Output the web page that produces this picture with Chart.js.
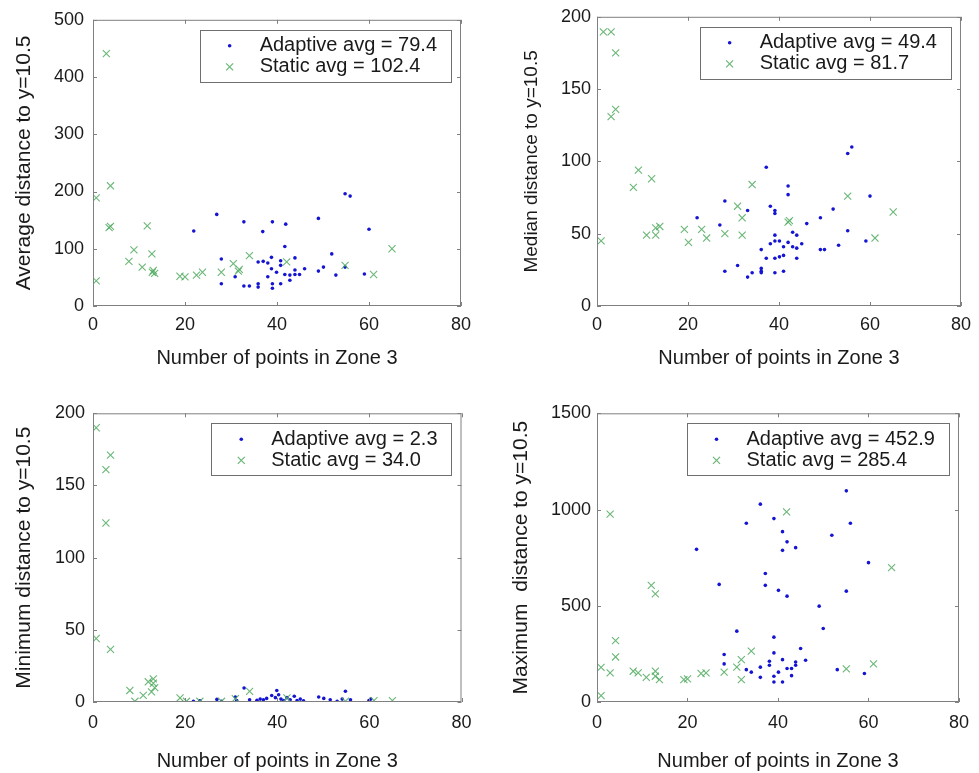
<!DOCTYPE html>
<html>
<head>
<meta charset="utf-8">
<script src="https://cdn.jsdelivr.net/npm/chart.js@4"></script>
<style>
  body { margin: 0; background: #fff; width: 979px; height: 773px; position: relative; overflow: hidden; }
  canvas { position: absolute; }
</style>
</head>
<body>
<canvas id="avgChart" width="489" height="386" style="left:0;top:0"></canvas>
<canvas id="medChart" width="490" height="386" style="left:489px;top:0"></canvas>
<canvas id="minChart" width="489" height="387" style="left:0;top:386px"></canvas>
<canvas id="maxChart" width="490" height="387" style="left:489px;top:386px"></canvas>
<script>
// x axis is shared by all four panels
const xTicks = [0, 20, 40, 60, 80];
const xTitle = "Number of points in Zone 3";

// Average distance panel
const avgLegend = ["Adaptive avg = 79.4", "Static avg = 102.4"];
const avgTicks = [0, 100, 200, 300, 400, 500];
const avgAdaptive = [
  [26.9, 160], [21.9, 131], [32.8, 147], [36.9, 130], [39, 147], [41.9, 143], [49, 153],
  [54.8, 196], [55.9, 192], [60, 134], [41.7, 104], [27.9, 82], [27.9, 39], [30.9, 51],
  [32.8, 35], [34, 35], [35.9, 39], [35.9, 33], [35.9, 77], [37, 78], [38, 75], [38, 51],
  [38.8, 85], [38.8, 65], [39, 39], [39, 31], [39.9, 59], [40.8, 79], [40.8, 71], [40.8, 39],
  [41.7, 55], [42.8, 45], [42.8, 54], [43.9, 84], [43.9, 63], [43.9, 55], [44.9, 55],
  [46, 65], [49, 61], [50.1, 68], [51.9, 91], [52.8, 54], [54.8, 68], [59, 56]
];
const avgStatic = [
  [2.9, 441], [3.8, 210], [0.7, 189], [3.5, 137], [3.8, 139], [11.8, 140], [8.9, 98],
  [12.8, 91], [7.8, 78], [10.7, 68], [12.9, 59], [13.1, 62], [13.4, 57], [18.9, 52],
  [20, 51], [22.5, 54], [23.8, 59], [27.9, 59], [30.5, 74], [31.6, 61], [31.8, 64],
  [34, 88], [42.1, 77], [54.8, 71], [61, 55], [65, 100], [0.7, 44]
];

// Median distance panel
const medLegend = ["Adaptive avg = 49.4", "Static avg = 81.7"];
const medTicks = [0, 50, 100, 150, 200];
const medAdaptive = [
  [37.2, 96], [55.1, 105.5], [56, 110], [60, 76], [42, 83], [42, 77], [28.1, 72.6],
  [22, 61], [27, 56], [33.1, 66], [38.1, 69], [39.1, 66], [39.1, 64], [51.9, 67],
  [46.1, 57], [49.1, 61], [43, 51], [43.9, 49], [39.1, 49], [38.1, 43], [39.1, 45],
  [40.1, 45], [41, 41], [42, 44], [43, 41], [43.9, 40], [45, 43], [36.1, 39], [37.2, 33],
  [39.1, 33], [40.1, 34], [41, 35], [43.9, 33], [49.1, 39], [50, 39], [53.1, 42],
  [55.1, 52], [59.1, 45], [30.9, 28], [28.1, 24], [33.1, 20], [34.1, 23], [36.1, 26],
  [36.1, 24], [36.1, 23], [39.1, 23], [41, 24]
];
const medStatic = [
  [1.4, 189.6], [3.1, 189.6], [4.1, 175], [3.1, 131], [4.1, 136], [9.1, 94], [8, 82],
  [12, 88], [0.9, 45], [10.9, 49], [12.9, 49], [12.9, 54], [13.8, 55], [19.2, 53],
  [20.1, 44], [23, 53], [24.1, 47], [28.1, 50], [30.9, 69], [31.9, 61], [31.9, 49],
  [34.1, 84], [42, 58], [42.3, 59], [55.1, 76], [61.1, 47], [65.1, 65]
];

// Minimum distance panel
const minLegend = ["Adaptive avg = 2.3", "Static avg = 34.0"];
const minTicks = [0, 50, 100, 150, 200];
const minAdaptive = [
  [21.8, 0.5], [23.2, 0.8], [26.9, 1.8], [27.9, 0.5], [30.9, 3.5], [31.2, 1], [32.8, 9.7],
  [34, 1.5], [35.6, 1.2], [36.3, 2], [37, 1.5], [37.7, 2.5], [38.8, 4.5], [39.6, 3],
  [39.9, 8], [40.3, 5], [40.8, 2], [41.4, 1], [42.1, 3], [42.8, 1.5], [43.7, 4], [44.3, 1],
  [45, 2], [45.7, 0.8], [49, 3.5], [50.1, 2.5], [51.5, 1.5], [53, 0.5], [54.1, 2],
  [54.8, 7.4], [55.9, 1.5], [59.9, 1], [60.3, 2]
];
const minStatic = [
  [0.7, 190], [3.8, 171], [2.8, 161], [2.8, 124], [0.7, 44], [3.8, 36.5], [8, 8],
  [9.1, 0.5], [12, 14], [13.1, 13], [12.7, 7], [13.4, 10], [10.9, 4.6], [13.1, 16],
  [18.9, 2.8], [20.3, 0.5], [23.2, 0.5], [27.9, 0.5], [30.9, 2.3], [34, 7.4], [42.1, 2.8],
  [54.8, 0.5], [61, 1], [65, 1]
];

// Maximum distance panel
const maxLegend = ["Adaptive avg = 452.9", "Static avg = 285.4"];
const maxTicks = [0, 500, 1000, 1500];
const maxAdaptive = [
  [55.1, 1097], [36.1, 1028], [33, 929], [39.1, 953], [56, 929], [41, 885], [51.9, 866],
  [42, 832], [41, 788], [43.9, 802], [22, 793], [60, 724], [37.2, 668], [27, 611],
  [37.2, 606], [40.1, 580], [55.1, 576], [42, 550], [49.1, 498], [50, 382], [30.9, 368],
  [39.1, 337], [45, 278], [39.1, 255], [28.1, 247], [28.1, 198], [46.1, 217], [38.1, 212],
  [38.1, 191], [41, 220], [43.9, 208], [43.9, 191], [33, 168], [34.1, 155], [36.1, 181],
  [36.1, 128], [39.1, 134], [39.1, 104], [40.1, 155], [41, 104], [42, 174], [43, 174],
  [43, 137], [53.1, 168], [59.1, 148]
];
const maxStatic = [
  [2.9, 976], [41.9, 988], [65.1, 698], [12, 606], [12.9, 562], [4.1, 319], [4.1, 234],
  [0.9, 180], [2.9, 151], [0.9, 33], [8, 160], [9.1, 151], [10.9, 128], [12.9, 160],
  [12.9, 134], [13.8, 116], [19.2, 116], [20, 120], [23, 148], [24.1, 151], [28.1, 155],
  [30.9, 181], [31.9, 220], [31.9, 116], [34.1, 264], [55.1, 172], [61.1, 198]
];

const FONT = "'Liberation Sans', Arial, Helvetica, sans-serif";
const TEXT = "#1a1a1a";
const FRAME = "#808080";
const BLUE = "#1414d2";
const GREEN = "rgba(80,170,95,0.85)";

// MATLAB-style box: frame, inward ticks on all sides, legend box top right
const matlabBox = {
  id: "matlabBox",
  afterDraw(chart, args, opts) {
    const { ctx, chartArea: a, scales } = chart;
    ctx.save();
    ctx.strokeStyle = FRAME;
    ctx.lineWidth = 1;
    ctx.strokeRect(a.left + 0.5, a.top + 0.5, a.right - a.left - 1, a.bottom - a.top - 1);

    ctx.beginPath();
    scales.x.ticks.forEach((t) => {
      const px = Math.round(scales.x.getPixelForValue(t.value)) + 0.5;
      ctx.moveTo(px, a.bottom); ctx.lineTo(px, a.bottom - 4);
      ctx.moveTo(px, a.top); ctx.lineTo(px, a.top + 4);
    });
    scales.y.ticks.forEach((t) => {
      const py = Math.round(scales.y.getPixelForValue(t.value)) + 0.5;
      ctx.moveTo(a.left, py); ctx.lineTo(a.left + 4, py);
      ctx.moveTo(a.right, py); ctx.lineTo(a.right - 4, py);
    });
    ctx.stroke();

    // Legend
    const labels = opts.labels;
    ctx.font = "20px " + FONT;
    const textW = Math.max(...labels.map((l) => ctx.measureText(l).width));
    const w = 60 + textW + 14;
    const h = 52;
    const right = a.right - 10;
    const left = right - w;
    const top = a.top + 10;
    ctx.fillStyle = "#fff";
    ctx.fillRect(left, top, w, h);
    ctx.strokeStyle = "#6f6f6f";
    ctx.strokeRect(Math.round(left) + 0.5, Math.round(top) + 0.5, Math.round(w), h);

    const rows = [top + 16, top + 37];
    // blue dot
    ctx.fillStyle = BLUE;
    ctx.beginPath();
    ctx.arc(left + 30, rows[0], 1.8, 0, Math.PI * 2);
    ctx.fill();
    // green cross
    ctx.strokeStyle = GREEN;
    ctx.lineWidth = 1.2;
    ctx.beginPath();
    ctx.moveTo(left + 26.5, rows[1] - 3.5); ctx.lineTo(left + 33.5, rows[1] + 3.5);
    ctx.moveTo(left + 26.5, rows[1] + 3.5); ctx.lineTo(left + 33.5, rows[1] - 3.5);
    ctx.stroke();

    ctx.fillStyle = TEXT;
    ctx.textBaseline = "middle";
    ctx.textAlign = "left";
    labels.forEach((l, i) => ctx.fillText(l, left + 60, rows[i]));
    ctx.restore();
  },
};

function toPoints(pairs) {
  return pairs.map(([x, y]) => ({ x, y }));
}

// Build one scatter panel
function createPanel(p) {
  const canvas = document.getElementById(p.id);
  const W = canvas.width;
  const H = canvas.height;
  const yMax = p.yTicks[p.yTicks.length - 1];

  return new Chart(canvas, {
    type: "scatter",
    data: {
      datasets: [
        {
          label: p.legend[0],
          data: toPoints(p.adaptive),
          pointStyle: "circle",
          pointRadius: 1.8,
          pointBorderWidth: 0,
          backgroundColor: BLUE,
          borderColor: BLUE,
          order: 1,
        },
        {
          label: p.legend[1],
          data: toPoints(p.stat),
          pointStyle: "crossRot",
          pointRadius: 5,
          pointBorderWidth: 1.1,
          borderColor: GREEN,
          backgroundColor: GREEN,
          order: 0,
        },
      ],
    },
    options: {
      responsive: false,
      animation: false,
      events: [],
      layout: {
        padding: { left: 0, top: p.area.top, right: W - p.area.right, bottom: 0 },
      },
      plugins: {
        legend: { display: false },
        tooltip: { enabled: false },
        matlabBox: { labels: p.legend },
      },
      scales: {
        x: {
          type: "linear",
          min: xTicks[0],
          max: xTicks[xTicks.length - 1],
          afterBuildTicks: (s) => { s.ticks = xTicks.map((v) => ({ value: v })); },
          afterFit: (s) => { s.height = H - p.area.bottom; },
          grid: { display: false, drawTicks: false },
          border: { display: false },
          ticks: {
            color: TEXT,
            font: { family: FONT, size: 18 },
            padding: p.xTickPad,
            maxRotation: 0,
            callback: (v) => String(v),
          },
          title: {
            display: true,
            text: xTitle,
            color: TEXT,
            font: { family: FONT, size: 20 },
            padding: { top: 0, bottom: p.xTitlePad },
          },
        },
        y: {
          type: "linear",
          min: 0,
          max: yMax,
          afterBuildTicks: (s) => { s.ticks = p.yTicks.map((v) => ({ value: v })); },
          afterFit: (s) => { s.width = p.area.left; },
          grid: { display: false, drawTicks: false },
          border: { display: false },
          ticks: {
            color: TEXT,
            font: { family: FONT, size: 18 },
            padding: p.yTickPad,
            callback: (v) => String(v),
          },
          title: {
            display: true,
            text: p.yTitle,
            color: TEXT,
            font: { family: FONT, size: p.yTitleSize },
            padding: { top: p.yTitlePad, bottom: 0 },
          },
        },
      },
    },
    plugins: [matlabBox],
  });
}

const panels = [
  {
    id: "avgChart", yTitle: "Average distance to y=10.5", yTicks: avgTicks, legend: avgLegend,
    adaptive: avgAdaptive, stat: avgStatic,
    area: { left: 93, top: 16.5, right: 461, bottom: 306 },
    yTitleSize: 21, yTitlePad: 11.4, yTickPad: 9, xTickPad: 8, xTitlePad: 16,
  },
  {
    id: "medChart", yTitle: "Median distance to y=10.5", yTicks: medTicks, legend: medLegend,
    adaptive: medAdaptive, stat: medStatic,
    area: { left: 108, top: 16.5, right: 478, bottom: 306 },
    yTitleSize: 19, yTitlePad: 31, yTickPad: 6, xTickPad: 8, xTitlePad: 16,
  },
  {
    id: "minChart", yTitle: "Minimum distance to y=10.5", yTicks: minTicks, legend: minLegend,
    adaptive: minAdaptive, stat: minStatic,
    area: { left: 93, top: 27.3, right: 461.5, bottom: 316 },
    yTitleSize: 21, yTitlePad: 11.4, yTickPad: 8, xTickPad: 10, xTitlePad: 0,
  },
  {
    id: "maxChart", yTitle: "Maximum  distance to y=10.5", yTicks: maxTicks, legend: maxLegend,
    adaptive: maxAdaptive, stat: maxStatic,
    area: { left: 108, top: 27.3, right: 478, bottom: 316 },
    yTitleSize: 21, yTitlePad: 20, yTickPad: 6, xTickPad: 10, xTitlePad: 0,
  },
];

panels.forEach(createPanel);
</script>
</body>
</html>
